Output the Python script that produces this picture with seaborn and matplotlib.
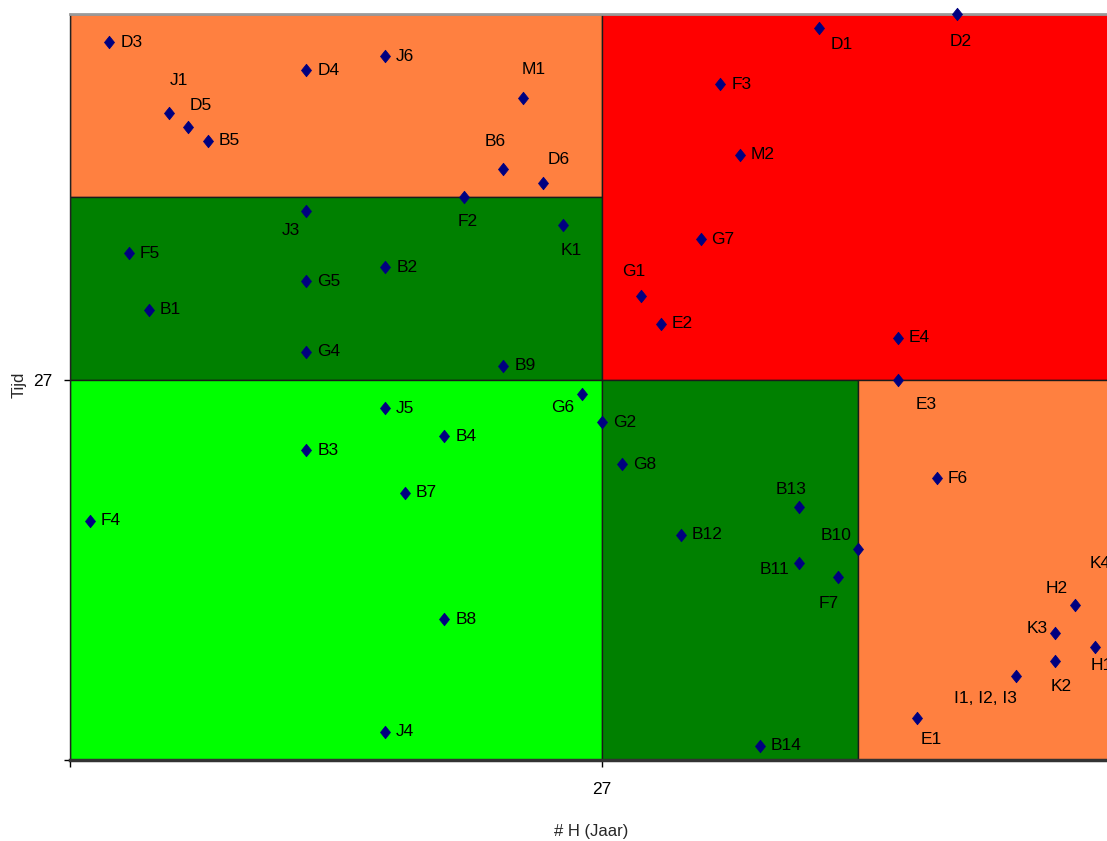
import matplotlib
matplotlib.use("Agg")
import matplotlib.pyplot as plt
from matplotlib.patches import Rectangle
from matplotlib.path import Path
import seaborn as sns
import pandas as pd

# Project codes with their hours (x) and duration (y)
codes = ["D3", "J1", "D5", "B5", "D4", "J6", "M1", "B6", "D6", "F2", "J3", "K1",
         "D1", "D2", "F3", "M2", "F5", "B2", "G5", "B1", "G4", "B9", "G7", "G1",
         "E2", "E4", "E3", "J5", "G6", "G2", "B4", "B3", "B7", "F4", "B8", "J4",
         "G8", "F6", "B13", "B12", "B10", "B11", "F7", "K4", "H2", "K3", "H1",
         "K2", "I1, I2, I3", "E1", "B14"]
hours = [2, 5, 6, 7, 12, 16, 23, 22, 24, 20, 12, 25,
         38, 45, 33, 34, 3, 16, 12, 4, 12, 22, 32, 29,
         30, 42, 42, 16, 26, 27, 19, 12, 17, 1, 19, 16,
         28, 44, 37, 31, 40, 37, 39, 53, 51, 50, 52,
         50, 48, 43, 35]
tijd = [51, 46, 45, 44, 49, 50, 47, 42, 41, 40, 39, 38,
        52, 53, 48, 43, 36, 35, 34, 32, 29, 28, 37, 33,
        31, 30, 27, 25, 26, 24, 23, 22, 19, 17, 10, 2,
        21, 20, 18, 16, 15, 14, 13, 13, 11, 9, 8,
        7, 6, 3, 1]

# Axis ranges and the tick that splits the quadrants
x_max = 54
y_max = 53
split = 27
tick_labels = ["", "27"]

# Coloured zones: (x0, x1, y0, y1, colour)
zones = [
    (0, 27, 40, y_max, "#FF8040"),
    (0, 27, 27, 40, "#008000"),
    (0, 27, 0, 27, "#00FF00"),
    (27, x_max, 27, y_max, "#FF0000"),
    (27, 40, 0, 27, "#008000"),
    (40, x_max, 0, 27, "#FF8040"),
]

# Label placement (pixel offsets of label centre from the marker);
# labels not listed sit to the right of their marker.
label_offsets = {
    "J1": (10, -32), "D5": (13, -21), "M1": (11, -29), "B6": (-8, -27),
    "D6": (16, -23), "F2": (4, 25), "J3": (-16, 19), "K1": (9, 25),
    "D1": (23, 16), "D2": (4, 28), "G1": (-8, -24), "E3": (29, 25),
    "G6": (-20, 13), "B13": (-8, -17), "B10": (-22, -13), "B11": (-25, 7),
    "F7": (-10, 26), "K4": (-14, -14), "H2": (-18, -17), "K3": (-18, -5),
    "H1": (7, 18), "K2": (6, 25), "I1, I2, I3": (-30, 23), "E1": (14, 22),
}

df = pd.DataFrame({"code": codes, "hours": hours, "tijd": tijd})

sns.set_theme(style="white")
plt.rcParams["font.family"] = ["Liberation Sans", "DejaVu Sans"]

# Diamond marker, slightly taller than wide
diamond = Path([(0, 1), (0.8, 0), (0, -1), (-0.8, 0), (0, 1)],
               [Path.MOVETO, Path.LINETO, Path.LINETO, Path.LINETO,
                Path.CLOSEPOLY])

W, H = 1107, 841
fig = plt.figure(figsize=(W / 100, H / 100), dpi=100)
fig.patch.set_facecolor("white")
ax = fig.add_axes([70 / W, 81 / H, 1064 / W, 746 / H])
ax.set_xlim(0, x_max)
ax.set_ylim(0, y_max)

for x0, x1, y0, y1, col in zones:
    ax.add_patch(Rectangle((x0, y0), x1 - x0, y1 - y0, facecolor=col,
                           edgecolor="#1a1a1a", linewidth=1.0, zorder=0))

sns.scatterplot(data=df, x="hours", y="tijd", ax=ax, marker=diamond, s=80,
                color="#000080", edgecolor="#000080", linewidth=0.6,
                zorder=3, clip_on=False, legend=False)

px2pt = 0.72
for code, hx, ty in zip(codes, hours, tijd):
    if code in label_offsets:
        dx, dy = label_offsets[code]
        ax.annotate(code, (hx, ty), xytext=(dx * px2pt, -dy * px2pt),
                    textcoords="offset points", ha="center", va="center",
                    fontsize=12.5, color="black", zorder=4,
                    annotation_clip=False)
    else:
        ax.annotate(code, (hx, ty), xytext=(11 * px2pt, 0),
                    textcoords="offset points", ha="left", va="center",
                    fontsize=12.5, color="black", zorder=4,
                    annotation_clip=False)

ax.set_xticks([0, split])
ax.set_xticklabels(tick_labels, fontsize=12.5)
ax.set_yticks([0, split])
ax.set_yticklabels(tick_labels, fontsize=12.5)
ax.tick_params(axis="x", direction="out", length=5, width=1, pad=11,
               colors="black", bottom=True)
ax.tick_params(axis="y", direction="out", length=4, width=1, pad=9,
               colors="black", left=True)

ax.set_xlabel("# H (Jaar)", fontsize=12, va="center")
ax.xaxis.set_label_coords(0.49, -0.0964)
ax.set_ylabel("Tijd", fontsize=12, va="center")
ax.yaxis.set_label_coords(-0.048, 0.503)

ax.spines["left"].set_color("#222222")
ax.spines["left"].set_linewidth(1.0)
ax.spines["bottom"].set_color("#333333")
ax.spines["bottom"].set_linewidth(2.5)
ax.spines["top"].set_color("#9a9a9a")
ax.spines["top"].set_linewidth(2)
ax.spines["right"].set_visible(False)
ax.grid(False)

fig.savefig("out.png", dpi=100)
